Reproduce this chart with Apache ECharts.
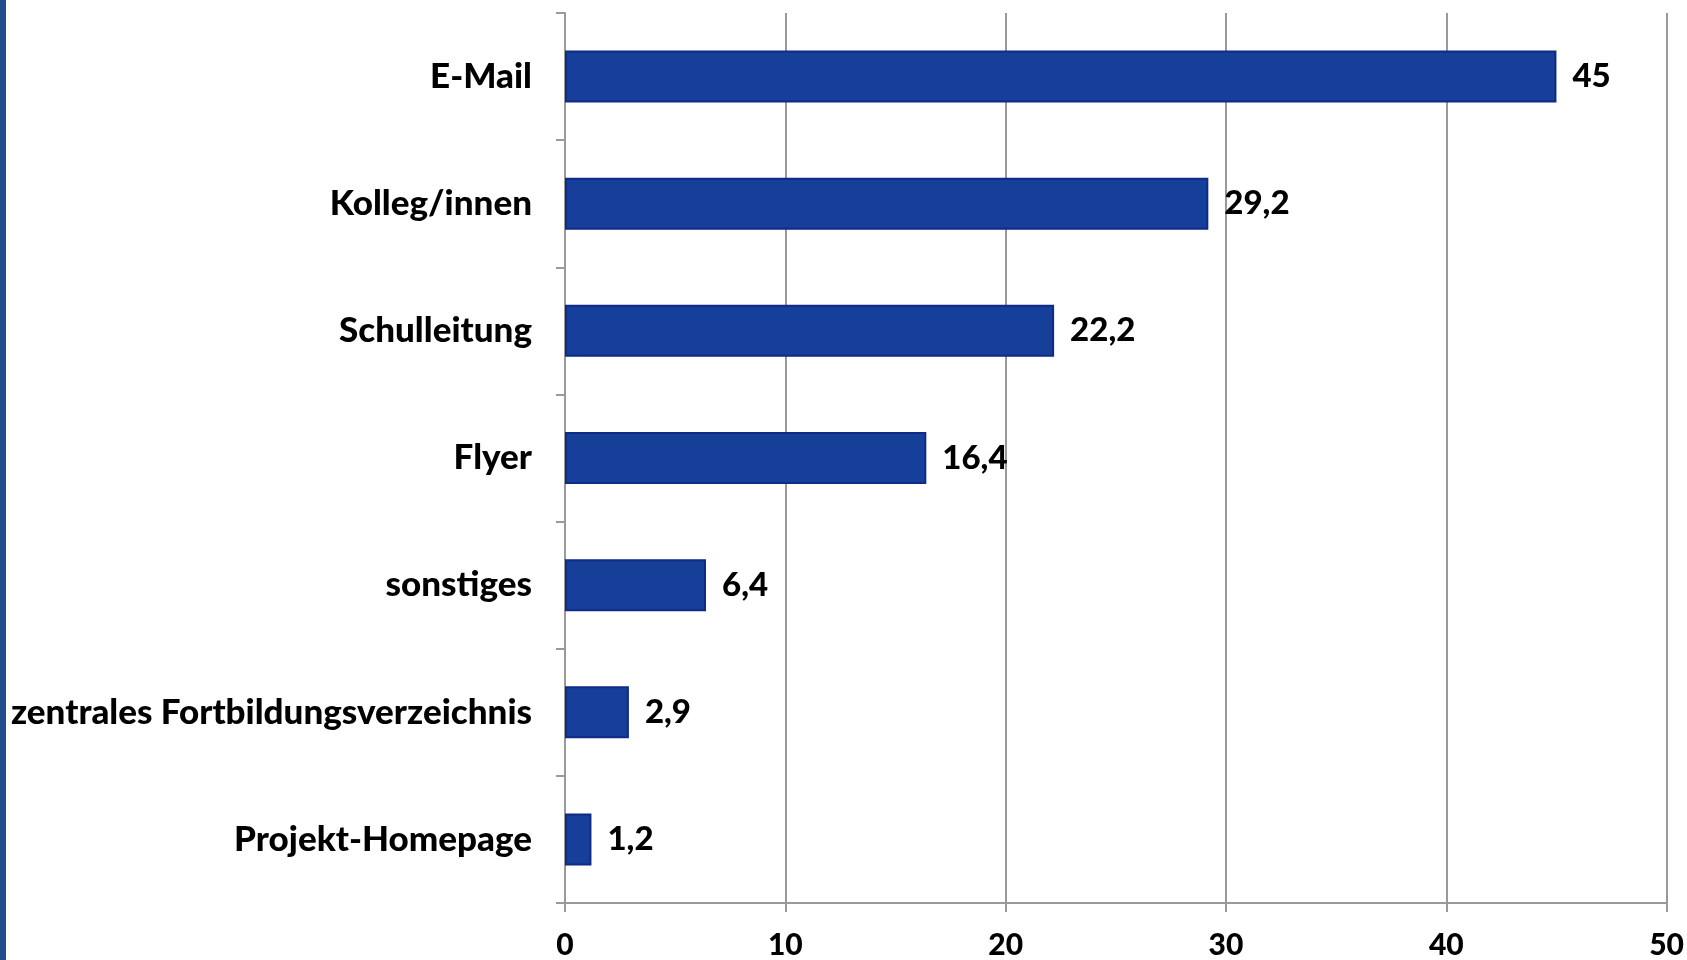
<!DOCTYPE html>
<html>
<head>
    <meta charset="UTF-8">
    <title>Informationsquellen</title>
    <script src="https://cdn.jsdelivr.net/npm/echarts@6/dist/echarts.min.js"></script>
</head>
<body style="height: 100%; margin: 0; background: #fff;">
<div id="container" style="width: 1687px; height: 960px;"></div>
<script type="text/javascript">
    // Werte von oben nach unten
    var categories = ['E-Mail', 'Kolleg/innen', 'Schulleitung', 'Flyer', 'sonstiges',
        'zentrales Fortbildungsverzeichnis', 'Projekt-Homepage'];
    var values = [45, 29.2, 22.2, 16.4, 6.4, 2.9, 1.2];
    var xTicks = [0, 10, 20, 30, 40, 50];

    var dom = document.getElementById("container");
    var myChart = echarts.init(dom);
    var fontName = 'Lato';

    var option = {
        animation: false,
        textStyle: {fontFamily: fontName},
        graphic: [{
            type: 'rect',
            shape: {x: 0, y: 0, width: 6, height: 960},
            style: {fill: '#1f4e8a'}
        }],
        grid: {left: 565, right: 19, top: 13, bottom: 54},
        xAxis: {
            type: 'value',
            min: xTicks[0],
            max: xTicks[xTicks.length - 1],
            interval: 10,
            axisLine: {show: true, lineStyle: {color: '#999', width: 2}},
            axisTick: {show: true, length: 9, lineStyle: {color: '#999', width: 2}},
            splitLine: {show: true, lineStyle: {color: '#999', width: 2}},
            axisLabel: {
                color: '#000',
                fontWeight: 900,
                fontSize: 30,
                margin: 27,
                fontFamily: fontName
            }
        },
        yAxis: {
            type: 'category',
            inverse: true,
            data: categories,
            axisLine: {show: true, lineStyle: {color: '#999', width: 2}},
            axisTick: {show: true, length: 9, lineStyle: {color: '#999', width: 2}},
            axisLabel: {
                color: '#000',
                fontWeight: 900,
                fontSize: 35,
                margin: 33,
                fontFamily: fontName
            }
        },
        series: [{
            type: 'bar',
            data: values,
            barWidth: 52,
            itemStyle: {color: '#163f99', borderColor: '#0f2b85', borderWidth: 2},
            label: {
                show: true,
                position: 'right',
                distance: 16,
                color: '#000',
                fontWeight: 900,
                fontSize: 33,
                fontFamily: fontName,
                formatter: function (p) {
                    return String(p.value).replace('.', ',');
                }
            }
        }]
    };
    myChart.setOption(option, true);
</script>
</body>
</html>
